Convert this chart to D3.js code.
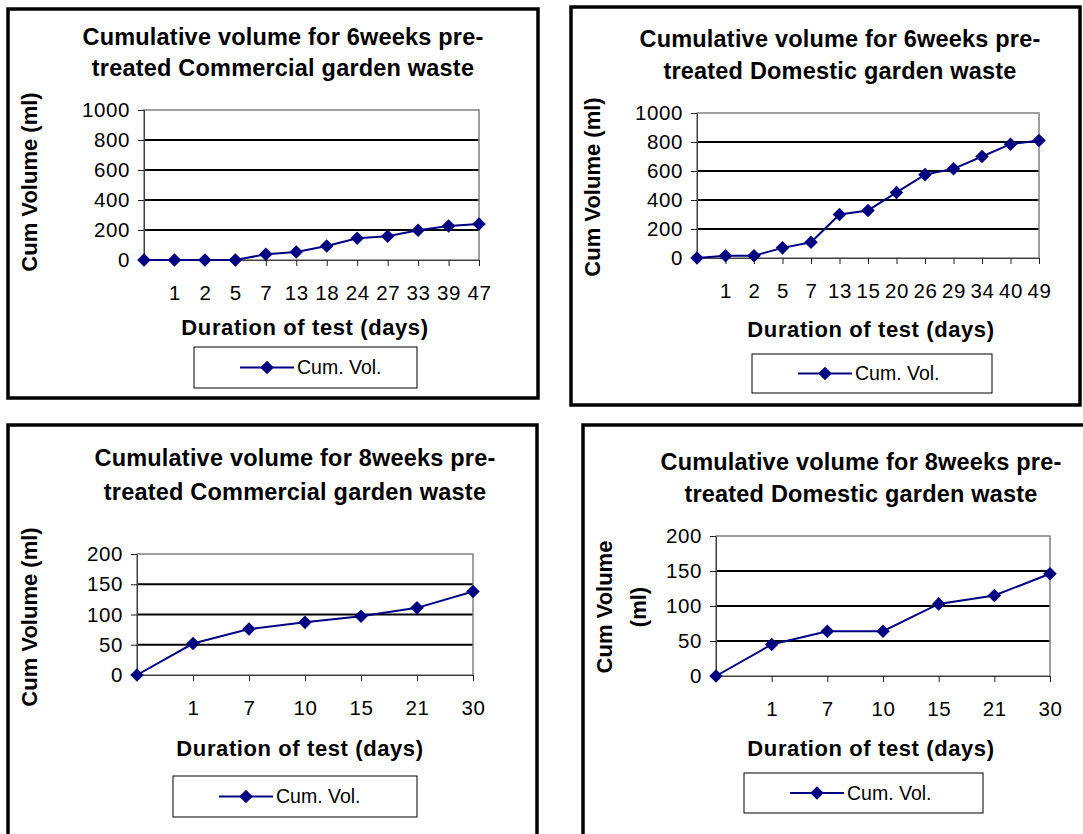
<!DOCTYPE html>
<html>
<head>
<meta charset="utf-8">
<script src="https://cdn.jsdelivr.net/npm/d3@7"></script>
<style>
  body { margin: 0; background: #fff; }
  svg { display: block; }
</style>
</head>
<body>
<div id="chart"></div>
<script>
// values
const days6Commercial = ["", "1", "2", "5", "7", "13", "18", "24", "27", "33", "39", "47"];
const vol6Commercial = [0, 0, 0, 0, 38, 53, 93, 145, 158, 198, 227, 240];

const days6Domestic = ["", "1", "2", "5", "7", "13", "15", "20", "26", "29", "34", "40", "49"];
const vol6Domestic = [0, 15, 15, 70, 108, 300, 328, 452, 575, 615, 700, 785, 810];

const days8Commercial = ["", "1", "7", "10", "15", "21", "30"];
const vol8Commercial = [0, 52, 76, 87, 97, 111, 138];

const days8Domestic = ["", "1", "7", "10", "15", "21", "30"];
const vol8Domestic = [0, 45, 64, 64, 103, 115, 146];

const ticks6 = [0, 200, 400, 600, 800, 1000];
const ticks8 = [0, 50, 100, 150, 200];

const seriesName = "Cum. Vol.";
const xTitle = "Duration of test (days)";

const FONT = "'Liberation Sans', Arial, sans-serif";
const NAVY = "#000080";

const panels = [
  {
    title: ["Cumulative volume for 6weeks pre-", "treated Commercial garden waste"],
    days: days6Commercial, vol: vol6Commercial, ticks: ticks6,
    border: [8, 9, 530, 389],
    plot: { l: 144, r: 479, t: 110, b: 260 },
    titleX: 283, titleY: [37, 68],
    yLabel: ["Cum Volume (ml)"], yLabelX: [29], yLabelY: 182,
    xTitleX: 305, xTitleY: 327,
    legend: [194, 347, 223, 41]
  },
  {
    title: ["Cumulative volume for 6weeks pre-", "treated Domestic garden waste"],
    days: days6Domestic, vol: vol6Domestic, ticks: ticks6,
    border: [571, 7, 509, 398],
    plot: { l: 697, r: 1039, t: 113, b: 258 },
    titleX: 840, titleY: [39, 71],
    yLabel: ["Cum Volume (ml)"], yLabelX: [592], yLabelY: 187,
    xTitleX: 871, xTitleY: 329,
    legend: [752, 354, 240, 39]
  },
  {
    title: ["Cumulative volume for 8weeks pre-", "treated Commercial garden waste"],
    days: days8Commercial, vol: vol8Commercial, ticks: ticks8,
    border: [8, 425, 529, 430],
    plot: { l: 137, r: 473, t: 554, b: 675 },
    titleX: 295, titleY: [458, 492],
    yLabel: ["Cum Volume (ml)"], yLabelX: [29], yLabelY: 617,
    xTitleX: 300, xTitleY: 748,
    legend: [173, 776, 244, 41]
  },
  {
    title: ["Cumulative volume for 8weeks pre-", "treated Domestic garden waste"],
    days: days8Domestic, vol: vol8Domestic, ticks: ticks8,
    border: [583, 425, 520, 430],
    plot: { l: 716, r: 1050, t: 536, b: 676 },
    titleX: 861, titleY: [462, 494],
    yLabel: ["Cum Volume", "(ml)"], yLabelX: [604, 638], yLabelY: 607,
    xTitleX: 871, xTitleY: 748,
    legend: [744, 773, 239, 40]
  }
];

const svg = d3.select("#chart").append("svg")
  .attr("width", 1083)
  .attr("height", 834)
  .style("font-family", FONT);

// Excel-style diamond: a square turned 45 degrees
const diamond = d3.symbol().type(d3.symbolSquare).size(92);

panels.forEach(p => {
  const g = svg.append("g");

  // outer chart border
  g.append("rect")
    .attr("x", p.border[0]).attr("y", p.border[1])
    .attr("width", p.border[2]).attr("height", p.border[3])
    .attr("fill", "#fff")
    .attr("stroke", "#000")
    .attr("stroke-width", 3.5);

  const x = d3.scalePoint().domain(p.days).range([p.plot.l, p.plot.r]);
  const y = d3.scaleLinear().domain([0, d3.max(p.ticks)]).range([p.plot.b, p.plot.t]);

  // title (two lines)
  g.selectAll(".title").data(p.title).join("text")
    .attr("x", p.titleX)
    .attr("y", (d, i) => p.titleY[i])
    .attr("dy", "0.35em")
    .attr("text-anchor", "middle")
    .attr("font-size", 23.5)
    .attr("font-weight", "bold")
    .attr("letter-spacing", 0.2)
    .text(d => d);

  // gridlines
  g.append("g").selectAll("line")
    .data(p.ticks.slice(1, -1))
    .join("line")
    .attr("x1", p.plot.l).attr("x2", p.plot.r)
    .attr("y1", d => y(d)).attr("y2", d => y(d))
    .attr("stroke", "#000")
    .attr("stroke-width", 2);

  // plot frame
  g.append("rect")
    .attr("x", p.plot.l).attr("y", p.plot.t)
    .attr("width", p.plot.r - p.plot.l).attr("height", p.plot.b - p.plot.t)
    .attr("fill", "none")
    .attr("stroke", "#808080")
    .attr("stroke-width", 1.5);

  // y axis
  const yAxis = g.append("g")
    .attr("transform", `translate(${p.plot.l},0)`)
    .call(d3.axisLeft(y).tickValues(p.ticks).tickFormat(d3.format("d")).tickSize(6).tickPadding(8));
  yAxis.select(".domain").attr("stroke", "#404040");
  yAxis.selectAll(".tick line").attr("stroke", "#202020");
  yAxis.selectAll("text")
    .attr("font-size", 20.5)
    .attr("font-family", FONT)
    .attr("letter-spacing", 0.6)
    .attr("fill", "#000");

  // x axis
  const xAxis = g.append("g")
    .attr("transform", `translate(0,${p.plot.b})`)
    .call(d3.axisBottom(x).tickSize(6).tickPadding(19));
  xAxis.select(".domain").attr("stroke", "#404040");
  xAxis.selectAll(".tick line").attr("stroke", "#202020");
  xAxis.selectAll("text")
    .attr("font-size", 20.5)
    .attr("font-family", FONT)
    .attr("letter-spacing", 0.6)
    .attr("fill", "#000");

  // axis titles
  g.append("text")
    .attr("x", p.xTitleX).attr("y", p.xTitleY)
    .attr("dy", "0.35em")
    .attr("text-anchor", "middle")
    .attr("font-size", 22)
    .attr("font-weight", "bold")
    .attr("letter-spacing", 0.6)
    .text(xTitle);

  p.yLabel.forEach((t, i) => {
    g.append("text")
      .attr("transform", `translate(${p.yLabelX[i]},${p.yLabelY}) rotate(-90)`)
      .attr("dy", "0.35em")
      .attr("text-anchor", "middle")
      .attr("font-size", 22)
      .attr("font-weight", "bold")
      .text(t);
  });

  // series line + diamond markers
  const pts = p.days.map((d, i) => [x(d), y(p.vol[i])]);
  g.append("path")
    .attr("d", d3.line()(pts))
    .attr("fill", "none")
    .attr("stroke", NAVY)
    .attr("stroke-width", 2);

  g.append("g").selectAll("path")
    .data(pts)
    .join("path")
    .attr("d", diamond)
    .attr("transform", d => `translate(${d[0]},${d[1]}) rotate(45)`)
    .attr("fill", NAVY);

  // legend
  const [lx, ly, lw, lh] = p.legend;
  const lg = g.append("g");
  lg.append("rect")
    .attr("x", lx).attr("y", ly).attr("width", lw).attr("height", lh)
    .attr("fill", "#fff")
    .attr("stroke", "#000")
    .attr("stroke-width", 1);
  const cy = ly + lh / 2;
  lg.append("line")
    .attr("x1", lx + 46).attr("x2", lx + 100)
    .attr("y1", cy).attr("y2", cy)
    .attr("stroke", NAVY).attr("stroke-width", 2);
  lg.append("path")
    .attr("d", diamond)
    .attr("transform", `translate(${lx + 73},${cy}) rotate(45)`)
    .attr("fill", NAVY);
  lg.append("text")
    .attr("x", lx + 103).attr("y", cy)
    .attr("dy", "0.35em")
    .attr("font-size", 19.5)
    .text(seriesName);
});
</script>
</body>
</html>
